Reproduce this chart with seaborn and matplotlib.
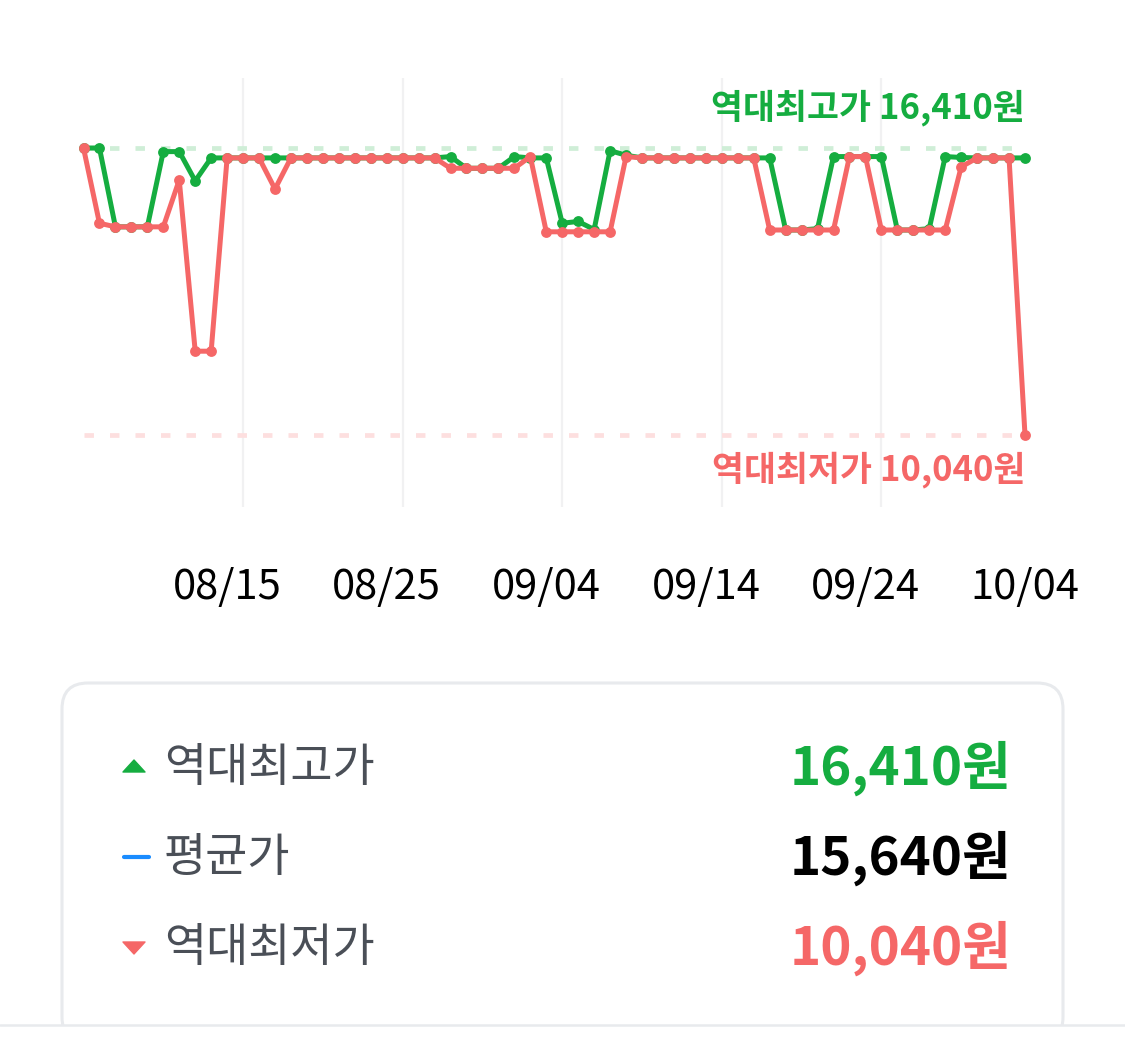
# Price history chart: two sellers, with all-time high / low and summary box

import pandas as pd
import matplotlib
matplotlib.use("Agg")
import matplotlib.pyplot as plt
import matplotlib.dates as mdates
from matplotlib.patches import FancyBboxPatch, Rectangle, Polygon
import seaborn as sns

# Data
dates = pd.date_range("2023-08-06", "2023-10-04", freq="D")

price_green = [16410, 16410, 14660, 14660, 14660, 16330, 16330, 15680, 16190, 16190,
               16190, 16190, 16190, 16190, 16190, 16190, 16190, 16190, 16190, 16190,
               16190, 16190, 16190, 16220, 15960, 15960, 15960, 16220, 16190, 16190,
               14740, 14780, 14600, 16350, 16250, 16190, 16190, 16190, 16190, 16190,
               16190, 16190, 16190, 16190, 14590, 14590, 14620, 16220, 16220, 16220,
               16220, 14590, 14590, 14620, 16220, 16200, 16190, 16190, 16190, 16190]

price_red = [16410, 14740, 14660, 14660, 14660, 14660, 15700, 11900, 11900, 16190,
             16190, 16190, 15500, 16190, 16190, 16190, 16190, 16190, 16190, 16190,
             16190, 16190, 16190, 15960, 15960, 15960, 15960, 15960, 16220, 14550,
             14550, 14550, 14550, 14550, 16220, 16190, 16190, 16190, 16190, 16190,
             16190, 16190, 16190, 14590, 14590, 14590, 14590, 14590, 16220, 16220,
             14590, 14590, 14590, 14590, 14590, 15990, 16190, 16190, 16190, 10040]

tick_dates = ["2023-08-15", "2023-08-25", "2023-09-04", "2023-09-14", "2023-09-24", "2023-10-04"]
grid_dates = ["2023-08-16", "2023-08-26", "2023-09-05", "2023-09-15", "2023-09-25"]

summary_labels = ["역대최고가", "평균가", "역대최저가"]
summary_values = [16410, 15640, 10040]

GREEN = "#15ad40"
RED = "#f56767"
BLUE = "#1a8cff"
GRAY_TXT = "#4a4f57"

df = pd.DataFrame({
    "date": list(dates) * 2,
    "price": price_green + price_red,
    "series": ["green"] * len(dates) + ["red"] * len(dates),
})

sns.set_theme(style="white")
plt.rcParams["font.family"] = ["Noto Sans CJK KR", "DejaVu Sans"]

W, H = 1125, 1044
fig = plt.figure(figsize=(W / 100, H / 100), dpi=100)
fig.patch.set_facecolor("white")

# chart area in pixel terms
left_px, right_px, top_px, bot_px = 83.5, 1025, 78, 507
ax = fig.add_axes([left_px / W, 1 - bot_px / H, (right_px - left_px) / W, (bot_px - top_px) / H])

hi = max(max(price_green), max(price_red))
lo = min(min(price_green), min(price_red))
per_px = (hi - lo) / (435 - 148)
ax.set_ylim(lo - (bot_px - 435) * per_px, hi + (148 - top_px) * per_px)
ax.set_xlim(dates[0], dates[-1])

for g in grid_dates:
    ax.axvline(pd.Timestamp(g), color="#f1f1f2", lw=1.6, zorder=0)

ax.hlines(hi, dates[0], dates[-1], colors="#cfeed7", lw=3.4, linestyles=(0, (2, 3.4)), zorder=1)
ax.hlines(lo, dates[0], dates[-1], colors="#fddfdf", lw=3.4, linestyles=(0, (2, 3.4)), zorder=1)

sns.lineplot(data=df[df.series == "green"], x="date", y="price", color=GREEN, lw=3.6,
             marker="o", markersize=7.8, markeredgewidth=0, clip_on=False, ax=ax, zorder=3)
sns.lineplot(data=df[df.series == "red"], x="date", y="price", color=RED, lw=3.6,
             marker="o", markersize=7.8, markeredgewidth=0, clip_on=False, ax=ax, zorder=4)

ax.annotate(f"역대최고가 {hi:,}원", (dates[-1], hi), xytext=(0, 29), textcoords="offset points",
            ha="right", va="center", color=GREEN, fontsize=25, fontweight="semibold")
ax.annotate(f"역대최저가 {lo:,}원", (dates[-1], lo), xytext=(0, -25), textcoords="offset points",
            ha="right", va="center", color=RED, fontsize=25, fontweight="semibold")

ax.set_xticks([pd.Timestamp(t) for t in tick_dates])
ax.xaxis.set_major_formatter(mdates.DateFormatter("%m/%d"))
ax.tick_params(axis="x", length=0, pad=43, labelsize=30, labelcolor="black")
ax.set_yticks([])
ax.set_xlabel("")
ax.set_ylabel("")
for s in ax.spines.values():
    s.set_visible(False)
ax.set_facecolor("none")

# summary box, drawn in pixel coordinates
bx = fig.add_axes([0, 0, 1, 1], zorder=-1)
bx.set_xlim(0, W)
bx.set_ylim(H, 0)
bx.axis("off")
bx.add_patch(FancyBboxPatch((62, 683), 1001, 360, boxstyle="round,pad=0,rounding_size=26",
                            fc="white", ec="#e8eaed", lw=2.2))
bx.add_patch(Rectangle((0, 1026), W, 30, fc="white", ec="none"))
bx.plot([0, W], [1024.5, 1024.5], color="#e8eaed", lw=1.8)

rows_y = [768, 858, 948]
bx.add_patch(Polygon([(123, 772), (145, 772), (134, 760)], closed=True, fc=GREEN, ec=GREEN,
                     lw=1, joinstyle="round"))
bx.plot([124, 149], [857, 857], color=BLUE, lw=3, solid_capstyle="round")
bx.add_patch(Polygon([(123, 942), (145, 942), (134, 954)], closed=True, fc=RED, ec=RED,
                     lw=1, joinstyle="round"))

value_colors = [GREEN, "black", RED]
for lab, val, y, c in zip(summary_labels, summary_values, rows_y, value_colors):
    bx.text(164, y, lab, ha="left", va="center", fontsize=33, color=GRAY_TXT)
    bx.text(1011, y, f"{val:,}원", ha="right", va="center", fontsize=38,
            fontweight="bold", color=c)

fig.savefig("out.png", dpi=100, facecolor="white")
plt.close(fig)
